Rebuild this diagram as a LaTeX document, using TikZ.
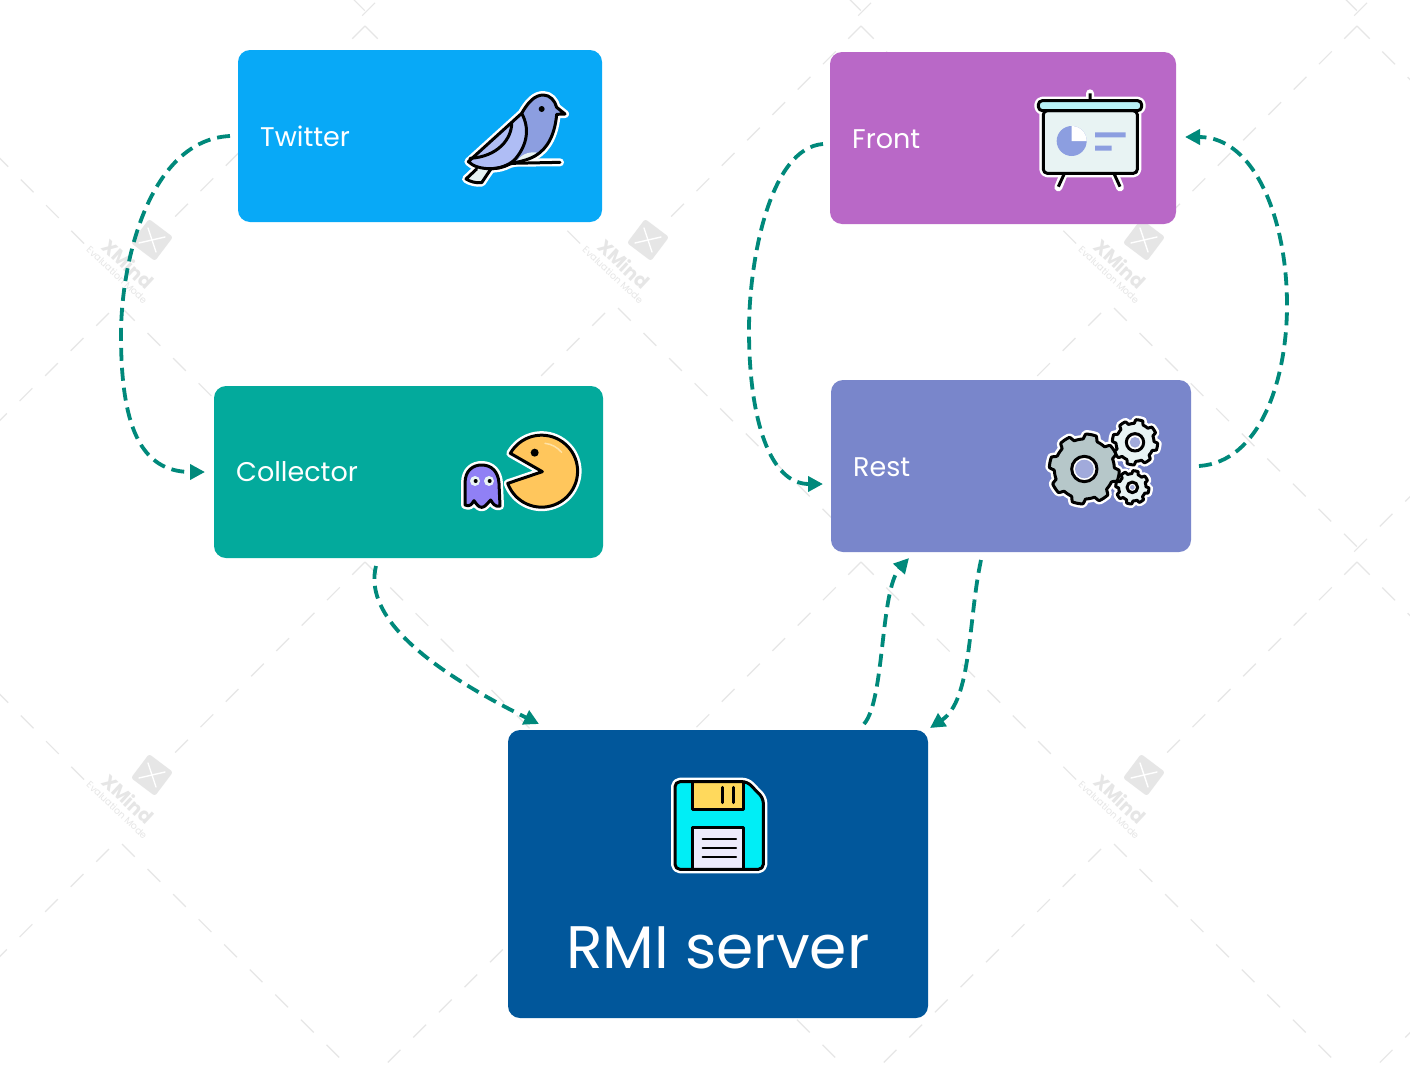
\documentclass[tikz,border=0pt]{standalone}
\usepackage{fontspec}
\setmainfont{Poppins}
\usetikzlibrary{arrows.meta,calc}
\definecolor{cTwitter}{HTML}{08A9F7}
\definecolor{cCollector}{HTML}{03AA9C}
\definecolor{cFront}{HTML}{B968C7}
\definecolor{cRest}{HTML}{7986CB}
\definecolor{cRmi}{HTML}{01579B}
\definecolor{cConn}{HTML}{00897B}
\definecolor{cWm}{HTML}{E6E6E6}
\definecolor{cBlue}{HTML}{8C9EE0}
\definecolor{cLav}{HTML}{AFBDF5}
\definecolor{cPale}{HTML}{E8F3F3}
\definecolor{cBar}{HTML}{B9F2F7}
\definecolor{cPac}{HTML}{FFC65C}
\definecolor{cPacHi}{HTML}{FFE2A5}
\definecolor{cGhost}{HTML}{9080F5}
\definecolor{cGear}{HTML}{B6C7C9}
\definecolor{cDisk}{HTML}{00EEF6}
\definecolor{cLabel}{HTML}{FFD95C}
\definecolor{cSheet}{HTML}{EDEBFB}
\tikzset{
  box/.style={rounded corners=12pt,inner sep=0pt,outer sep=0pt,anchor=north west},
  lbl/.style={text=white,anchor=west,inner sep=0pt,font=\fontsize{27}{31}\selectfont},
  conn/.style={draw=cConn,line width=3.8pt,dash pattern=on 13pt off 7pt,-{Triangle[length=15pt,width=15pt]}},
  wmline/.style={draw=cWm,line width=1.2pt},
  halo/.style={draw=white,line width=8pt,line join=round,line cap=round},
  ink/.style={draw=black,line width=3pt,line join=round,line cap=round},
}
% gear: centre x, centre y, outer r, root r, teeth
\newcommand{\gearshape}[5]{plot[domain=0:360,samples=181,variable=\t]
  ({#1+(#4+(#3-#4)*min(1,max(0,0.5+1.6*sin(#5*\t))))*cos(\t)},{#2+(#4+(#3-#4)*min(1,max(0,0.5+1.6*sin(#5*\t))))*sin(\t)}) -- cycle}
\begin{document}
\begin{tikzpicture}[x=1pt,y=-1pt]
\path[use as bounding box,fill=white] (0,0) rectangle (1410,1068);
% watermark
\begin{scope}
\clip (0,0) rectangle (1410,1068);
\foreach \i in {-1,0,1,2,3}{
 \foreach \j in {-1,0,1,2}{
  \pgfmathsetmacro{\px}{365+496*\i}
  \pgfmathsetmacro{\py}{26+536*\j}
  \foreach \k in {0,...,8}{
    \draw[wmline] ({\px+25.3*\k},{\py+25.6*\k}) -- ++(12.7,12.7);}
  \foreach \k in {0,...,7}{
    \draw[wmline] ({\px-25.3*\k},{\py+25.4*\k}) -- ++(-12.7,12.7);}
  \foreach \k in {0,...,9}{
    \draw[wmline] ({\px-243+25.56*\k},{\py+282+25.1*\k}) -- ++(12.7,12.7);
    \draw[wmline] ({\px-256-25.56*\k},{\py+287+25.1*\k}) -- ++(-12.7,12.7);}
 }
}
\foreach \lx/\ly/\wn in {152/240/a,648/240/b,1144/240/c,152/775/d,1144/775/e}{
  \begin{scope}[shift={(\lx,\ly)}]
    \fill[cWm,rounded corners=2.5pt,rotate=-37] (-15,-15) rectangle (15,15);
    \draw[white,line width=1.4pt,line cap=round] (-13,3) -- (13,-3) (-4,-12) -- (4,12);
  \end{scope}
  \node[rotate=-43,text=cWm,inner sep=0pt,font=\fontsize{19}{22}\selectfont\bfseries] (wmx\wn) at (\lx-24,\ly+24) {XMind};
  \node[rotate=-43,text=cWm,inner sep=0pt,font=\fontsize{9.5}{11}\selectfont] (wme\wn) at (\lx-35,\ly+35) {Evaluation Mode};
}
\end{scope}
% boxes
\node[box,fill=cTwitter,minimum width=364pt,minimum height=172pt] (twitter) at (238,50) {};
\node[box,fill=cCollector,minimum width=389pt,minimum height=172pt] (collector) at (214,386) {};
\node[box,fill=cFront,minimum width=346pt,minimum height=172pt] (front) at (830,52) {};
\node[box,fill=cRest,minimum width=360pt,minimum height=172pt] (rest) at (831,380) {};
\node[box,fill=cRmi,minimum width=420pt,minimum height=288pt] (rmi) at (508,730) {};
% labels
\node[lbl,xshift=22pt] (twitterlabel) at (twitter.west) {Twitter};
\node[lbl,xshift=22pt] (collectorlabel) at (collector.west) {Collector};
\node[lbl,xshift=22pt,yshift=-1pt] (frontlabel) at (front.west) {Front};
\node[lbl,xshift=22pt,yshift=-1pt] (restlabel) at (rest.west) {Rest};
\node[text=white,inner sep=0pt,font=\fontsize{60}{68}\selectfont] (rmilabel) at (718,948) {RMI server};
% connectors
\draw[conn] ($(twitter.west)+(-8,0)$) .. controls (150,140) and (121,260) .. (121,335) .. controls (121,425) and (140,472) .. ($(collector.west)+(-9,0)$);
\draw[conn] ($(front.west)+(-7,6)$) .. controls (770,148) and (749,260) .. (749,330) .. controls (749,420) and (770,484) .. ($(rest.west)+(-8,18)$);
\draw[conn] ($(rest.east)+(8,0)$) .. controls (1260,462) and (1287,380) .. (1287,305) .. controls (1287,220) and (1255,137) .. ($(front.east)+(9,-1)$);
\draw[conn] ($(collector.south)+(-32.5,8)$) .. controls (365,610) and (410,660) .. ($(rmi.north)+(-179,-6)$);
\draw[conn] ($(rmi.north)+(146,-6)$) .. controls (885,700) and (880,590) .. ($(rest.south)+(-102,6)$);
\draw[conn] ($(rest.south)+(-30,8)$) .. controls (968,620) and (972,700) .. ($(rmi.north)+(212,-2)$);
% bird
\begin{scope}[shift={(440,70)},x=.33333pt,y=-.33333pt]
  \def\birdbody{(85,275) -- (245,130) .. controls (265,95) and (285,75) .. (310,75) .. controls (330,75) and (345,92) .. (350,112) -- (375,132) -- (350,133) .. controls (345,190) and (325,235) .. (285,258) .. controls (260,272) and (235,275) .. (210,282) .. controls (190,292) and (175,296) .. (150,296) .. controls (125,296) and (100,290) .. (85,275) -- cycle}
  \def\birdtail{(110,297) -- (78,327) .. controls (90,335) and (110,340) .. (125,338) -- (152,298)}
  \draw[halo] \birdbody; \draw[halo] \birdtail; \draw[halo] (215,278) -- (360,277);
  \fill[cPale] \birdtail -- cycle; \draw[ink] \birdtail;
  \fill[cBlue] \birdbody;
  \fill[cLav] (85,275) -- (245,130) .. controls (270,175) and (262,225) .. (225,268) .. controls (205,288) and (175,296) .. (150,296) .. controls (125,296) and (100,290) .. (85,275) -- cycle;
  \fill[cPale] (232,272) .. controls (245,250) and (275,242) .. (300,250) .. controls (280,265) and (255,270) .. cycle;
  \draw[ink] (245,130) .. controls (270,175) and (262,225) .. (225,268) .. controls (205,288) and (175,296) .. (150,296);
  \draw[ink] (215,160) .. controls (215,205) and (175,260) .. (90,265);
  \draw[ink] \birdbody;
  \draw[ink] (215,280) -- (360,277);
  \fill[black] (305,117) circle[radius=9];
\end{scope}
% presentation board
\begin{scope}[shift={(1020,80)},x=.33333pt,y=-.33333pt]
  \draw[halo] (210,40) -- (210,62) (130,285) -- (115,322) (285,285) -- (300,322);
  \draw[halo,rounded corners=4pt] (70,92) rectangle (352,280);
  \draw[halo,rounded corners=4pt] (55,62) rectangle (365,92);
  \draw[ink,line cap=butt] (210,40) -- (210,62) (132,283) -- (115,320) (283,283) -- (300,320);
  \draw[ink,fill=cPale,rounded corners=4pt] (70,92) rectangle (352,280);
  \draw[ink,fill=cBar,rounded corners=4pt] (55,62) rectangle (365,92);
  \fill[cBlue] (155,183) circle[radius=45];
  \fill[white] (155,183) -- (155,138) arc[start angle=270,end angle=360,radius=45] -- cycle;
  \fill[cBlue] (225,157) rectangle (317,172) (225,197) rectangle (275,212);
\end{scope}
% pacman and ghost
\begin{scope}[shift={(450,420)},x=.33333pt,y=-.33333pt]
  \def\pac{(277,155) -- (181,100) arc[start angle=209.7,end angle=520.2,radius=108] -- cycle}
  \def\ghost{(45,255) -- (45,190) .. controls (45,150) and (70,135) .. (95,135) .. controls (125,135) and (145,155) .. (147,190) -- (150,258) .. controls (135,262) and (128,250) .. (122,240) .. controls (112,250) and (105,262) .. (95,262) .. controls (85,262) and (78,250) .. (72,242) .. controls (65,252) and (60,262) .. (45,255) -- cycle}
  \draw[halo] \pac; \draw[halo] \ghost;
  \draw[ink,fill=cPac] \pac;
  \fill[black] (254,98) circle[radius=12];
  \draw[line width=1.5pt,draw=cPacHi,line cap=round] (285,70) .. controls (305,72) and (322,82) .. (335,97);
  \draw[ink,fill=cGhost] \ghost;
  \fill[cPale] (75,183) circle[radius=15] (117,183) circle[radius=15];
  \fill[black] (77,183) circle[radius=6] (119,183) circle[radius=6];
\end{scope}
% gears
\begin{scope}[shift={(1040,410)},x=.33333pt,y=-.33333pt]
  \draw[halo] \gearshape{285}{97}{68}{57}{8};
  \draw[halo] \gearshape{277}{232}{50}{41}{8};
  \draw[halo] \gearshape{133}{177}{105}{90}{8};
  \draw[ink,fill=cPale] \gearshape{285}{97}{68}{57}{8};
  \draw[ink,fill=cPale] \gearshape{277}{232}{50}{41}{8};
  \draw[ink,fill=cGear] \gearshape{133}{177}{105}{90}{8};
  \fill[white] (133,177) circle[radius=36];
  \draw[ink] (133,177) circle[radius=38];
  \fill[cRest!70!white] (133,177) circle[radius=28];
  \fill[white] (285,97) circle[radius=24];
  \draw[ink] (285,97) circle[radius=26];
  \fill[cRest!70!white] (285,97) circle[radius=16];
  \draw[ink,fill=white] (277,232) circle[radius=16];
  \fill[cRest!70!white] (277,232) circle[radius=7];
\end{scope}
% floppy
\begin{scope}[shift={(660,770)},x=.33333pt,y=-.33333pt]
  \def\disk{[rounded corners=5pt] (45,298) -- (45,35) -- (262,35) -- (310,85) -- (310,298) -- cycle}
  \draw[halo] \disk;
  \fill[cDisk] \disk;
  \fill[cLabel] (97,38) rectangle (250,118);
  \draw[ink] (97,38) -- (97,118) -- (250,118) -- (250,38);
  \fill[cSheet] (97,172) rectangle (250,298);
  \draw[ink] (97,298) -- (97,172) -- (250,172) -- (250,298);
  \draw[ink] (187,52) -- (187,98) (220,52) -- (220,98);
  \draw[ink,line width=2pt] (128,206) -- (228,206) (128,234) -- (228,234) (128,262) -- (228,262);
  \draw[ink] \disk;
\end{scope}
\end{tikzpicture}
\end{document}
